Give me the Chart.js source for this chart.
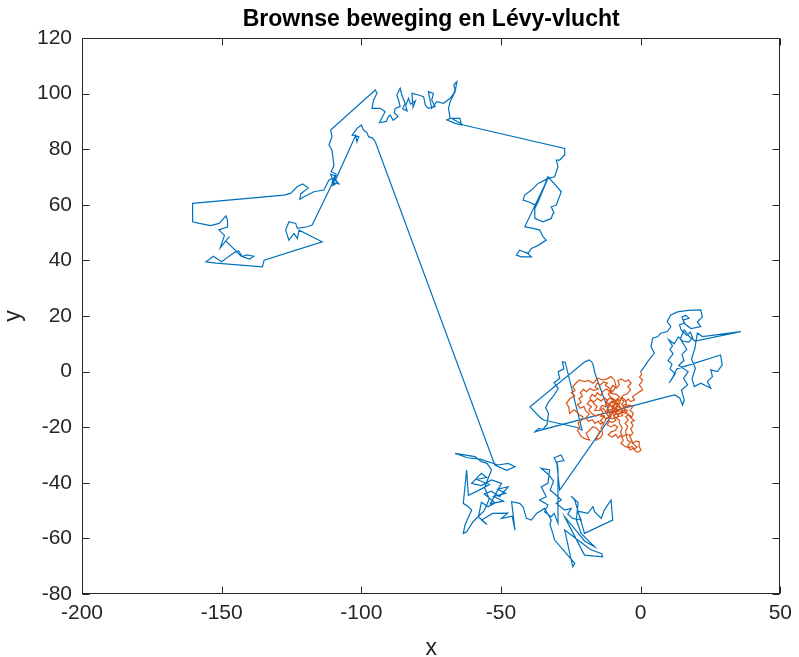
<!DOCTYPE html>
<html>
<head>
<meta charset="utf-8">
<title>Brownse beweging en Lévy-vlucht</title>
<script src="https://cdn.jsdelivr.net/npm/chart.js@4.4.1/dist/chart.umd.min.js"></script>
<style>
  html, body { margin: 0; padding: 0; background: #fff; }
  #wrap { width: 799px; height: 657px; }
</style>
</head>
<body>
<div id="wrap"><canvas id="walkChart" width="799" height="657"></canvas></div>
<script>
// Levy flight path, [x, y] (starts at origin)
const levyWalk = [
  // right cluster
  [0,0],[1.5,2],[2.5,3.6],[4.9,6.6],[3.7,9],[4.3,12],[6.1,12.6],[7.2,13.8],[9.6,14.4],[10.8,16.2],
  [9.5,18],[10.8,20.4],[13.2,21.5],[17,22],[21.5,22.2],[22.1,19.7],[20.3,17.9],[21.5,16.2],[18,15.5],[16,17],
  [15.2,18.5],[17.3,19.2],[16.1,20.3],[14.8,19.6],[15.6,17.4],[13.9,16.8],[14.5,15],[16.5,13],[17.8,14.2],[18.6,12.1],
  [17.2,10.6],[15,11],[13.5,12.5],[12,10],[10,11.5],[11.4,9.2],[10.5,8],[11.6,6.4],[9.8,4],[11.2,2.6],
  [10.5,1],[12.4,-0.8],[10.2,-4.1],[11.5,-2],[13,1],[28.6,6],[29.2,2.4],[27.5,0],[25.1,0.6],[25.7,-1.8],
  [23.9,-3.6],[25.1,-6],[21.5,-4.2],[19.2,-5.4],[18.4,-2.6],[19.6,1.2],[18.2,4.5],[19.4,8.3],[20.3,13.9],[22.1,12.6],
  [35.8,14.4],[19.5,11],[17.5,12.5],[15.6,15],[14.2,11.8],[16.5,8],[14.8,6.2],[15.5,4],[13.6,2.2],[17,0],
  [15.4,-2.4],[16.8,-4.8],[14.6,-6.6],[15.6,-10.2],[15,-12],[14,-9.5],[12.2,-8.4],[9.6,-9],
  // middle
  [-37.8,-21.6],[-36.5,-20.5],[-35,-20.8],[-33.5,-19],[-33,-15],[-34,-13],[-33,-11],[-31,-8.5],[-29.5,-6],[-31,-4],
  [-29,-2.5],[-29.5,0],[-27.5,1],[-28,3.5],[-27,3.3],[-21,-21],[-23,-20],[-34.5,-17.5],[-36,-16.5],[-39.6,-12.7],
  [-20,3.5],[-18.5,4.2],[-17.5,3.5],[-17,2.4],[-16.4,-0.5],[-10.7,-16.3],
  // lower right
  [-29,-42.6],[-29.5,-38],[-30,-33],[-31,-31],[-28.5,-30],[-27.5,-32],[-30,-32.5],[-29.6,-35],[-29.6,-54.5],[-31,-51],
  [-32,-52.2],[-34.4,-50.4],[-33.2,-48],[-36.2,-46.2],[-33.8,-45],[-35.6,-41.4],[-33.2,-40.2],[-32.6,-35.4],[-35.6,-34.8],[-33,-37],
  [-31.2,-39.4],[-32.4,-42.6],[-30.6,-44.1],[-28.4,-46.2],[-30.2,-47.4],[-27.2,-49.8],[-24.8,-49.2],[-26.1,-51.3],[-24.3,-52.8],[-21.3,-53.4],
  [-22.6,-50.2],[-18.9,-51],[-17.1,-48.6],[-16.5,-50.4],[-14.1,-52.8],[-13,-49.8],[-10.6,-46.2],[-10,-53.4],[-20.1,-58.2],[-23.6,-46.2],
  [-24.9,-44.8],[-22.4,-47.1],[-23,-53.4],[-21.3,-58.2],[-16.5,-63],[-20,-61],[-27.2,-52.2],[-25.6,-55.4],[-20.1,-66],[-13.6,-66.6],
  [-14,-65.5],[-18,-64],[-27.2,-57],[-24.3,-70.2],[-23.6,-69],[-30.8,-60.6],[-31.5,-58],[-32.5,-55],[-32,-53.4],[-34.4,-49.2],
  [-37.3,-51],[-39.1,-53.4],[-40.9,-52.8],[-42.1,-48.6],[-43.3,-47.4],[-46.2,-46.8],
  // lower left
  [-45,-57],[-46,-52],[-49.8,-52.8],[-47.6,-50.9],[-53,-51],[-57,-53.4],[-55,-55],[-58.1,-52.2],[-57,-47],[-54.6,-48.6],
  [-52.1,-47.2],[-56,-44],[-53.4,-43],[-50.5,-45],[-47.4,-41.4],[-51.2,-42.3],[-48.3,-43.8],[-52.6,-44.9],[-49.1,-46.6],[-53.8,-47.5],
  [-49.8,-40.2],[-53.4,-39],[-57,-41],[-60.5,-40.2],[-57,-36.6],[-55.2,-38.1],[-58.7,-38.8],[-54.1,-40.6],[-58.5,-43],[-61.7,-44.5],
  [-62.3,-35.4],[-63.5,-47.4],[-61.7,-48.6],[-60.5,-49.8],[-62.9,-55.2],[-63.5,-58.2],[-62.3,-57.6],[-60,-54],[-56,-50],[-54.2,-45.8],
  [-55.9,-41.7],[-53.4,-35.4],[-55,-33],[-57,-32.4],[-59.3,-30.6],[-66.4,-29.4],[-62,-31],[-57.5,-31.5],[-51,-33.6],[-47.4,-33],
  [-45,-34.2],[-48,-35.5],[-52.2,-33.6],
  // up to the top left
  [-95,82.7],[-96,84],[-97.4,84.5],[-98,86],[-99.2,86.9],[-100,88.7],[-101.5,87.5],[-103.3,85.1],[-100.9,84.5],[-101.6,82.7],
  [-102,85],[-109.2,69],[-108,67.5],[-110.5,68],[-109.5,70.5],[-111,71],[-110,68.5],[-117.6,52.7],[-119.4,52.1],[-122.9,51.5],
  [-123.5,53.3],[-125.9,53.9],[-127.1,50.9],[-125.9,47.3],[-124.1,49.7],[-122.9,47.9],[-122.3,50.9],[-114,46.7],[-134.8,40.1],[-135.4,37.7],
  [-152,39],[-155.6,39.5],
  // left cluster
  [-153,41.5],[-150,39.5],[-148,41],[-146,42.5],[-144,43.5],[-142.6,41.4],[-141,42],[-138.5,41.5],[-140,40.5],[-143,41.5],
  [-146,44.5],[-148.5,47],[-147.2,48.6],[-150.5,44.5],[-149,49],[-151,51],[-148,52],[-147.9,54.5],[-148.5,56],[-150.9,53.3],
  [-154,52.5],[-158,53.3],[-160.4,53.9],[-160.4,60.5],[-127.7,63.5],[-125.3,64.1],[-123,66.5],[-121,67.5],[-119,66],[-121.7,64],
  [-122,62],[-120.5,62.9],[-117,64.7],[-113.4,65.3],[-111.6,68.9],[-110,69.5],[-108.5,68],[-110.2,67],[-109,71],[-110.8,72],
  [-109.8,74],[-110.5,79.6],[-111.6,81.5],[-110.5,84.5],[-111,86.9],
  // top cluster
  [-95,101.3],[-94.4,100.1],[-95.6,97.7],[-96.2,94.7],[-93.2,94.7],[-91.5,93.5],[-92.7,91.1],[-93.5,89.5],[-91,90],[-90.5,91.5],
  [-89.7,92.3],[-88.6,90.4],[-86.9,91.8],[-88.2,93.1],[-87.9,94.7],[-86.1,95.3],[-86.7,97.7],[-87.3,99.5],[-86.1,101.9],[-85.5,99.5],
  [-84.3,96.5],[-85.2,94.6],[-83.6,93.8],[-84.1,95.7],[-83.1,98.3],[-82.4,96.2],[-80.6,97.4],[-81.5,95.1],[-81.9,100.1],[-79.5,99.5],
  [-77.7,98.9],[-77.1,95.9],[-76,94.7],[-73.6,95.3],[-74.8,97.7],[-74.2,100.1],[-76,100.7],[-74.8,94.7],[-73,97.1],[-70.6,96.5],
  [-68.2,98.3],[-66.9,100.1],[-66.4,101.3],[-66.9,103.1],[-65.8,104.3],[-66.4,100.7],[-68.2,97.1],[-68.8,94.7],[-68.2,91.1],[-69.4,90.5],
  [-66.4,89.3],[-64.1,88.7],[-64.7,91.1],[-67.7,91.1],[-63.5,88.7],
  // jump right and down
  [-27.2,80.3],[-27.2,77.9],[-29,76.1],[-30.2,76.1],[-29.6,73.7],[-30.8,70.1],[-33.2,69.5],[-36.7,67.7],[-39.1,65.3],[-41.5,63.5],
  [-42.1,61.7],[-40,61],[-38,60],[-36.7,61.1],[-33.2,70.1],[-28.4,64.7],[-30.2,59.9],[-32,59.3],[-31,57],[-31.4,56.9],
  [-32,55.1],[-35,53.9],[-37.9,55.1],[-37.9,58.7],[-36.7,61.1],[-33.2,69.5],[-41.5,52.1],[-38.5,51.5],[-36.1,50.9],[-35,48.5],
  [-33.8,47.3],[-36.5,45.5],[-39.1,44.3],[-40.3,42.5],[-43.3,43.7],[-44.5,41.9],[-42.7,41.3],[-39.1,41.3],[-41,43]
];

// Brownian motion path, [x, y] (starts at origin)
const brownWalk = [
  [0,0],[0.3,-1.2],[-0.4,-2],[0.7,-3],[0.2,-4],[-0.5,-4.8],[0.3,-5.8],[0.7,-6.6],[-0.3,-7.2],[-1.1,-7.8],
  [-2,-8.3],[-2.9,-9],[-2.2,-10.2],[-3.6,-10.8],[-4.5,-9.8],[-5.4,-11],[-4.8,-12.3],[-6.2,-12.8],[-5.6,-14],[-7,-14.6],
  [-6.4,-15.8],[-7.8,-16.2],[-8.6,-15],[-9.5,-15.9],[-10.2,-14.6],[-9.1,-13.5],[-10.4,-12.6],[-9.3,-11.6],[-8.2,-12.4],[-7.3,-11.2],
  [-8.4,-10.2],[-7.6,-9],[-8.8,-8.2],[-10.6,-7.8],[-9.6,-6.6],[-8.8,-5.4],[-9.4,-3],[-10.6,-1.8],[-12,-2.6],[-13.6,-3],
  [-15.2,-2.4],[-17.1,-4.2],[-18.6,-3.2],[-20.2,-3.6],[-21.9,-3],[-23.2,-4.2],[-24.3,-5.4],[-23.5,-6.8],[-24.8,-7.6],[-23.6,-8.8],
  [-25.2,-9.6],[-26.6,-11.4],[-25.8,-12.6],[-25.4,-15],[-24.4,-14.2],[-23.6,-13.8],[-22.6,-14.8],[-21.9,-15.6],[-20.7,-16.2],[-21.2,-17.6],
  [-22.4,-18.4],[-21.9,-19.8],[-22.6,-21.2],[-21.3,-23.4],[-19.8,-24.2],[-18.3,-24.6],[-19.5,-22.2],[-18.2,-21],[-17.1,-19.8],[-15.8,-20.4],
  [-14.7,-21.6],[-15.4,-23],[-15.9,-24.6],[-14.4,-23.8],[-13.6,-22.4],[-14.2,-20.2],[-13.2,-18.8],[-14.4,-17.6],[-13.2,-16.4],[-14.6,-15.4],
  [-15.9,-16],[-17.4,-15.2],[-18.6,-13.8],[-17.6,-12.6],[-19.1,-11.6],[-18.2,-10.4],[-16.6,-10.8],[-15.4,-9.6],[-14.2,-10.6],[-13,-9.4],
  [-11.8,-10.4],[-12.6,-11.8],[-11.2,-12.6],[-12.2,-13.8],[-10.8,-14.8],[-11.6,-16.2],[-10.2,-17],[-8.8,-16.4],[-7.6,-17.6],[-7.6,-18.6],
  [-6.6,-20.2],[-7.2,-21.8],[-6.4,-23.4],[-5.2,-22.6],[-4,-22.8],[-3.4,-24.4],[-2.9,-25.8],[-1.6,-25],[-0.5,-25.2],[-0.6,-26.8],
  [0.1,-28.2],[-0.8,-29],[-1.7,-28.8],[-2.6,-27.6],[-3.8,-28.2],[-4.6,-26.6],[-3.6,-25.4],[-4.8,-24.6],[-5.4,-21.4],[-4.6,-19.8],
  [-5.6,-18.6],[-4.4,-17.4],[-5.4,-16.2],[-4.2,-15.4],[-3.2,-16.4],[-2.6,-15],[-3.8,-14],[-2.8,-12.6],[-4.2,-12],[-5.6,-12.8],
  [-6.8,-11.8],[-6,-10.6],[-7.2,-9.8],[-6.4,-8.6],[-4.8,-8],[-3.6,-6.6],[-4.6,-5.4],[-3.4,-4.2],[-4.4,-3],[-5.6,-3.6],
  [-6.8,-2.6],[-8.2,-3.2],[-7.6,-4.6],[-8.6,-6],[-10,-5],[-11.2,-7.2],[-12.2,-6.2],[-13.6,-7.2],[-14.2,-8.6],[-15.6,-7.6],
  [-16.2,-9],[-17.4,-8.2],[-18.2,-9.6],[-16.8,-11.4],[-15.6,-12.6],[-16.4,-14],[-14.8,-14],[-13.4,-13.2],[-12.4,-14.6],[-11,-13.6],
  [-9.8,-14],[-10.6,-12.2],[-9,-12.8],[-8,-14],[-8.8,-14.8],[-7.2,-13.4],[-8,-12],[-6.6,-13.6],[-7.4,-15],[-9.2,-15.4],
  [-8.6,-13.2],[-10,-13.2],[-9.4,-11.8],[-8,-11.4],[-10.8,-11],[-9.2,-10.4],[-11.2,-9.6],[-12.4,-10.8],[-11.4,-12],[-9.6,-12.6],
  [-10.3,-13.5],[-9.1,-14.3],[-10.1,-15.1],[-11.3,-14.2],[-12.1,-15.3],[-11.2,-16.5],[-12.6,-17.1],[-13.1,-15.8],[-14.2,-16.1],[-13.5,-14.6],
  [-14.6,-13.4],[-13.8,-12.2],[-12.6,-12.7],[-12.2,-11.3],[-10.9,-11.8],[-10.3,-10.6],[-9.1,-11.1],[-8.4,-9.8],[-7.2,-10.5],[-6.5,-9.4],
  [-5.6,-10.2],[-5.1,-11.6],[-6.3,-12.2],[-5.8,-13.5],[-4.7,-13.9],[-5.3,-15.1],[-6.6,-14.6],[-7.9,-15.4],[-8.5,-16.8],[-9.6,-16.1],
  [-8.9,-17.5],[-10.1,-18.3],[-11.4,-17.8],[-11.9,-19.2],[-10.6,-19.9],[-9.4,-19.1],[-8.3,-19.9],[-9.1,-21.2],[-10.4,-21.6],[-11.6,-22.7],
  [-10.2,-23.5],[-8.9,-22.6],[-8.1,-23.9],[-7.3,-22.9],[-6.2,-24.6],[-7.1,-25.8],[-5.9,-26.7],[-4.4,-27.4],[-3.1,-26.9],[-2.2,-27.8],
  [-1.3,-27.1],[-2.5,-26.2],[-3.9,-23.3],[-2.8,-22.1],[-3.6,-20.6],[-2.7,-19.4],[-3.5,-18.2],[-2.3,-17.6],[-3.2,-16.9],[-4.1,-15.9],
  [-5.2,-14.6],[-6.4,-13.9],[-7.6,-12.7],[-8.6,-12.7],[-8.2,-11.4],[-9.3,-10.1],[-10.7,-9.2],[-11.6,-8.1],[-10.4,-6.9],[-11.4,-5.8],
  [-12.7,-4.9],[-11.9,-4.1],[-13.3,-3.7],[-14.4,-4.8],[-15.6,-4.1],[-16.3,-5.6],[-15.1,-6.2],[-16.8,-6.8],[-18.1,-6.1],[-19.4,-7.2],
  [-20.5,-6.4],[-21.6,-7.6],[-20.8,-8.9],[-22.1,-9.7],[-21.3,-11.1],[-22.6,-11.8],[-21.7,-13.2],[-20.3,-12.6],[-19.7,-14.1],[-18.4,-15.3],
  [-19.6,-16.6],[-18.7,-17.9],[-17.3,-17.3],[-16.4,-18.6],[-15.2,-17.8],[-14.3,-18.9],[-12.9,-18.1],[-12.2,-16.8],[-10.8,-16.1],[-10.2,-14.9],
  [-8.9,-13.9],[-7.8,-14.3],[-7.2,-13.1],[-8.4,-12.3]
];

const xTicks = [-200, -150, -100, -50, 0, 50];
const yTicks = [-80, -60, -40, -20, 0, 20, 40, 60, 80, 100, 120];

const fontFam = "'Liberation Sans', Arial, Helvetica, sans-serif";
const axisColor = '#262626';

// matlab style box with inward ticks on all four sides
const boxPlugin = {
  id: 'box',
  afterDraw(chart) {
    const { ctx, chartArea: a, scales } = chart;
    const L = Math.round(a.left) + 0.5, R = Math.round(a.right) - 0.5;
    const T = Math.round(a.top) + 0.5, B = Math.round(a.bottom) - 0.5;
    ctx.save();
    ctx.strokeStyle = axisColor;
    ctx.lineWidth = 1;
    ctx.strokeRect(L, T, R - L, B - T);
    ctx.beginPath();
    xTicks.forEach(v => {
      const px = Math.round(scales.x.getPixelForValue(v)) + 0.5;
      ctx.moveTo(px, B); ctx.lineTo(px, B - 7);
      ctx.moveTo(px, T); ctx.lineTo(px, T + 7);
    });
    yTicks.forEach(v => {
      const py = Math.round(scales.y.getPixelForValue(v)) + 0.5;
      ctx.moveTo(L, py); ctx.lineTo(L + 7, py);
      ctx.moveTo(R, py); ctx.lineTo(R - 7, py);
    });
    ctx.stroke();
    ctx.restore();
  }
};

new Chart(document.getElementById('walkChart'), {
  type: 'scatter',
  data: {
    datasets: [
      {
        label: 'Lévy-vlucht',
        data: levyWalk.map(p => ({ x: p[0], y: p[1] })),
        showLine: true,
        borderColor: '#0072BD',
        borderWidth: 1.2,
        pointRadius: 0,
        tension: 0,
        order: 1
      },
      {
        label: 'Brownse beweging',
        data: brownWalk.map(p => ({ x: p[0], y: p[1] })),
        showLine: true,
        borderColor: '#D95319',
        borderWidth: 1.2,
        pointRadius: 0,
        tension: 0,
        order: 0
      }
    ]
  },
  options: {
    responsive: false,
    animation: false,
    devicePixelRatio: 1,
    layout: { padding: { left: 0, right: 15, top: 0, bottom: 0 } },
    plugins: {
      legend: { display: false },
      tooltip: { enabled: false },
      title: {
        display: true,
        fullSize: false,
        text: 'Brownse beweging en Lévy-vlucht',
        color: '#000',
        font: { family: fontFam, size: 23, weight: 'bold' },
        padding: { top: 6, bottom: 4.4 }
      }
    },
    scales: {
      x: {
        type: 'linear',
        min: -200,
        max: 50,
        afterBuildTicks: s => { s.ticks = xTicks.map(v => ({ value: v })); },
        afterFit: s => { s.height = 63; },
        grid: { display: false, drawTicks: false },
        border: { display: false },
        ticks: {
          color: axisColor,
          font: { family: fontFam, size: 21 },
          padding: 7,
          maxRotation: 0,
          autoSkip: false,
          callback: v => String(v)
        },
        title: {
          display: true,
          text: 'x',
          color: axisColor,
          font: { family: fontFam, size: 23 },
          padding: { top: 0, bottom: -5 }
        }
      },
      y: {
        type: 'linear',
        min: -80,
        max: 120,
        afterBuildTicks: s => { s.ticks = yTicks.map(v => ({ value: v })); },
        afterFit: s => { s.width = 82; },
        grid: { display: false, drawTicks: false },
        border: { display: false },
        ticks: {
          color: axisColor,
          font: { family: fontFam, size: 21 },
          padding: 10,
          autoSkip: false,
          callback: v => String(v)
        },
        title: {
          display: true,
          text: 'y',
          color: axisColor,
          font: { family: fontFam, size: 23 },
          padding: { top: 0, bottom: 0 }
        }
      }
    }
  },
  plugins: [boxPlugin]
});
</script>
</body>
</html>
